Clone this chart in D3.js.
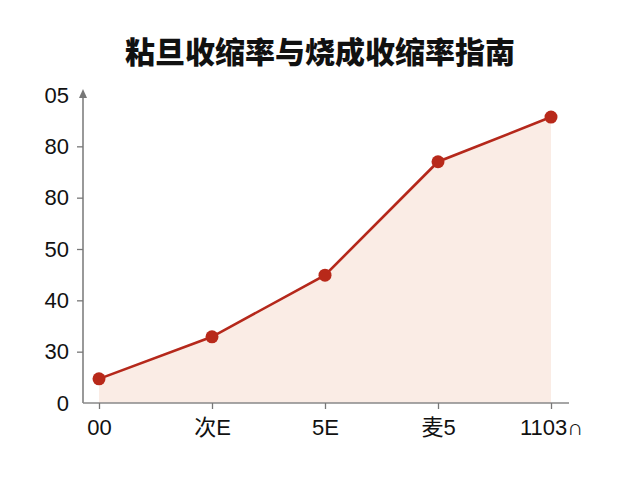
<!DOCTYPE html>
<html>
<head>
<meta charset="utf-8">
<script src="https://cdn.jsdelivr.net/npm/d3@7"></script>
<style>
  body { margin: 0; background: #fff; }
  text { font-family: "Liberation Sans", "Noto Sans CJK SC", sans-serif; }
</style>
</head>
<body>
<script>
// chart data
var categories = ["00", "次E", "5E", "麦5", "1103∩"];
var values = [4.7, 12.9, 24.9, 47.0, 55.7];
var yTicks = [0, 10, 20, 30, 40, 50, 60];
var yTickLabels = ["0", "30", "40", "50", "80", "80", "05"];
var title = "粘旦收缩率与烧成收缩率指南";

var width = 640, height = 480;

var svg = d3.select("body")
            .append("svg")
              .attr("width", width)
              .attr("height", height);

var x = d3.scalePoint()
          .domain(categories)
          .range([99, 551]);

var y = d3.scaleLinear()
          .domain([0, 60])
          .range([403, 95]);

var data = categories.map(function(c, i) { return {cat: c, val: values[i]}; });

// title
svg.append("text")
   .attr("x", 320)
   .attr("y", 63)
   .attr("text-anchor", "middle")
   .style("font-family", "'Noto Sans CJK SC', sans-serif")
   .style("font-weight", "900")
   .style("font-size", "30px")
   .attr("fill", "#111")
   .text(title);

// shaded area under the line
var area = d3.area()
             .x(function(d) { return x(d.cat); })
             .y0(y(0))
             .y1(function(d) { return y(d.val); });

svg.append("path")
   .datum(data)
   .attr("d", area)
   .attr("fill", "#faece5");

// y axis
var yAxis = d3.axisLeft(y)
              .tickValues(yTicks)
              .tickSize(6)
              .tickPadding(8)
              .tickFormat(function(d, i) { return yTickLabels[i]; });

var gy = svg.append("g")
            .attr("transform", "translate(83,0)")
            .call(yAxis);
gy.select(".domain").remove();
gy.selectAll(".tick line")
  .attr("stroke", "#777")
  .attr("stroke-width", 1.3)
  .style("display", function(d) { return (d == 0 || d == 60) ? "none" : null; });
gy.selectAll(".tick text")
  .style("font-size", "22px")
  .attr("fill", "#111");

svg.append("line")
   .attr("x1", 83).attr("x2", 83)
   .attr("y1", y(0)).attr("y2", 96)
   .attr("stroke", "#777")
   .attr("stroke-width", 1.5);
svg.append("path")
   .attr("d", "M83,89 L79,98 L87,98 Z")
   .attr("fill", "#777");

// x axis
var xAxis = d3.axisBottom(x)
              .tickSize(6)
              .tickPadding(10)
              .tickSizeOuter(0);

var gx = svg.append("g")
            .attr("transform", "translate(0," + y(0) + ")")
            .call(xAxis);
gx.select(".domain")
  .attr("d", "M83,0H569")
  .attr("stroke", "#888")
  .attr("stroke-width", 1.5);
gx.selectAll(".tick line")
  .attr("stroke", "#777")
  .attr("stroke-width", 1.3);
gx.selectAll(".tick text")
  .style("font-size", "22px")
  .attr("fill", "#111");

// line and points
var line = d3.line()
             .x(function(d) { return x(d.cat); })
             .y(function(d) { return y(d.val); });

svg.append("path")
   .datum(data)
   .attr("d", line)
   .attr("fill", "none")
   .attr("stroke", "#b5281b")
   .attr("stroke-width", 2.6);

svg.selectAll("circle")
   .data(data)
   .enter()
   .append("circle")
   .attr("cx", function(d) { return x(d.cat); })
   .attr("cy", function(d) { return y(d.val); })
   .attr("r", 6.5)
   .attr("fill", "#b8291a");
</script>
</body>
</html>
